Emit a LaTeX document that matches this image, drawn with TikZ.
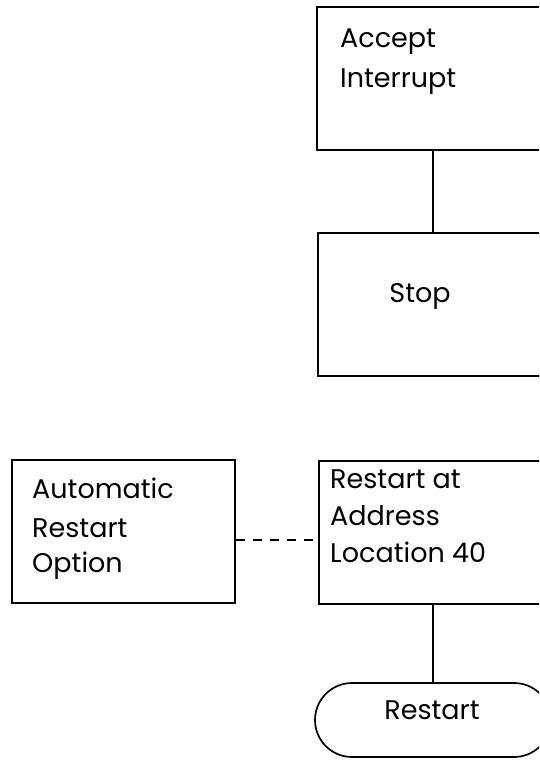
\documentclass[tikz,border=0pt]{standalone}
\usepackage{fontspec}
\setmainfont{Poppins}
\usetikzlibrary{shapes.misc}
\begin{document}
\begin{tikzpicture}[x=1pt,y=-1pt,
  box/.style={draw,line width=1.7pt,rectangle,minimum width=232pt,minimum height=143pt,inner sep=0pt},
  sidebox/.style={draw,line width=1.7pt,rectangle,minimum width=223pt,minimum height=143pt,inner sep=0pt},
  term/.style={draw,line width=1.7pt,rounded rectangle,minimum width=236pt,minimum height=74pt,inner sep=0pt},
  lbl/.style={anchor=base west,inner sep=0pt,font=\fontsize{27}{37}\selectfont},
  clbl/.style={anchor=base,inner sep=0pt,font=\fontsize{27}{37}\selectfont},
  conn/.style={line width=1.7pt},
  dconn/.style={line width=1.4pt,dash pattern=on 9pt off 8pt}]
\useasboundingbox (0,0) rectangle (539,760);
\clip (0,0) rectangle (539,760);
\fill[white] (0,0) rectangle (539,760);
\node[box] (accept) at (433,78.5) {};
\node[box] (stop) at (434,304.5) {};
\node[box] (restartat) at (435,532.5) {};
\node[sidebox] (auto) at (123.5,531.5) {};
\node[term] (restart) at (433,720) {};
\node[lbl] (t1) at (340,48) {Accept};
\node[lbl] (t2) at (340,87) {Interrupt};
\node[clbl] (t3) at (420,302) {Stop};
\node[lbl] (t4) at (330,488) {Restart at};
\node[lbl] (t5) at (330,525) {Address};
\node[lbl] (t6) at (330,562) {Location 40};
\node[lbl] (t7) at (32,498) {Automatic};
\node[lbl] (t8) at (32,537) {Restart};
\node[lbl] (t9) at (32,572) {Option};
\node[clbl] (t10) at (432,719) {Restart};
\draw[conn] (accept.south -| 433,0) -- (stop.north -| 433,0);
\draw[conn] (restartat.south -| 433,0) -- (restart.north -| 433,0);
\draw[dconn] (auto.east |- 0,540) -- (restartat.west |- 0,540);
\end{tikzpicture}
\end{document}
